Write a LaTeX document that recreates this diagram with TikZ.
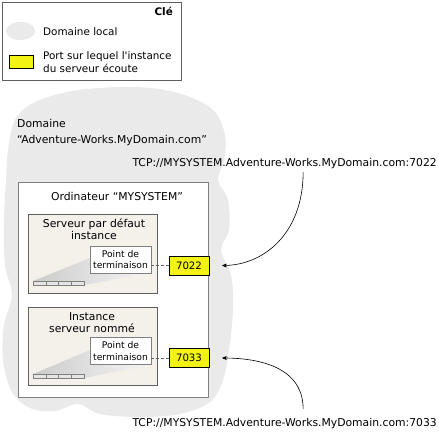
\documentclass[tikz,border=0pt]{standalone}
\usepackage{fontspec}
\setmainfont{DejaVu Sans}[Ligatures=TeXOff]
\usepackage{tikz}
\usetikzlibrary{arrows}
\definecolor{lgrey}{RGB}{234,234,234}
\definecolor{beige}{RGB}{244,240,234}
\definecolor{portyellow}{RGB}{242,242,20}
\definecolor{dgrey}{RGB}{96,96,96}
\definecolor{mgrey}{RGB}{128,128,128}

\begin{document}
\begin{tikzpicture}[x=1pt,y=-1pt,>=stealth',font=\fontsize{10.8}{12.5}\selectfont]
      \tikzstyle{every node}=[inner sep=0pt,text=black]
      \tikzstyle{instance}=[draw=dgrey,fill=beige,line width=0.8pt]
      \tikzstyle{title}=[align=center,font=\fontsize{10.8}{11.5}\selectfont]
      \tikzstyle{endpoint}=[draw=mgrey,fill=white,line width=0.6pt,minimum width=61pt,minimum height=27pt,align=center,font=\fontsize{9.2}{11.5}\selectfont]
      \tikzstyle{port}=[draw=black,fill=portyellow,line width=0.6pt,minimum width=40pt,minimum height=19pt,font=\fontsize{10.2}{12}\selectfont]
      \tikzstyle{bar}=[draw=mgrey,fill=black!10,line width=0.4pt]
      \tikzstyle{beam}=[left color=black!20,right color=black!4]
      \tikzstyle{link}=[->,line width=0.6pt,shorten >=13pt]

      \useasboundingbox (0,0) rectangle (439,433);

      % legend
      \draw[dgrey,line width=0.8pt,fill=white] (2,2) rectangle (181,80);
      \node[anchor=east,font=\fontsize{10.4}{12}\selectfont\bfseries] (K) at (173,11) {Clé};
      \fill[lgrey] (20.5,31) ellipse (14.5 and 9);
      \node[anchor=west,font=\fontsize{10.4}{12}\selectfont] (L1) at (43,32) {Domaine local};
      \draw[black,fill=portyellow,line width=0.6pt] (9,55) rectangle (33,68);
      \node[anchor=west,align=left,font=\fontsize{10.4}{13}\selectfont] (L2) at (43,62.5) {Port sur lequel l'instance\\du serveur écoute};

      % domain
      \fill[lgrey] plot[smooth cycle,tension=0.6] coordinates {
        (8,150) (15,120) (33,103) (67,92) (100,88) (133,87) (165,90) (195,99)
        (215,112) (225,135) (224,160) (218,180) (228,200) (229,230) (221,250)
        (231,275) (233,310) (229,350) (223,380) (210,402) (180,414) (140,417)
        (100,414) (78,404) (55,411) (30,408) (12,392) (3,360) (4,325) (12,295)
        (5,265) (4,220) (6,180)};
      \node[anchor=west,align=left,font=\fontsize{10.8}{16}\selectfont] (D) at (17,133) {Domaine\\“Adventure-Works.MyDomain.com”};

      % computer
      \draw[mgrey,fill=white,line width=0.8pt] (18,182) rectangle (208,397);
      \node (C) at (117,196) {Ordinateur “MYSYSTEM”};

      % default instance
      \draw[instance] (28,214) rectangle (157,293);
      \node[title] (S1) at (94,229.5) {Serveur par défaut\\instance};
      \shade[beam] (33,281) -- (90,258) -- (90,273) -- (150,273) -- (84,285) -- (33,285) -- cycle;
      \node[endpoint] (E1) at (120.5,259.5) {Point de\\terminaison};
      \foreach \i in {0,...,3}
        \draw[bar] (33+12.75*\i,281) rectangle (45.75+12.75*\i,285);
      \node[port] (P1) at (189,265.5) {7022};
      \draw[dgrey,dash pattern=on 3pt off 2pt] (E1.east |- P1.west) -- (P1.west);

      % named instance
      \draw[instance] (28,307) rectangle (157,385);
      \node[title] (S2) at (92,322.5) {Instance\\serveur nommé};
      \shade[beam] (33,374) -- (90,350) -- (90,365) -- (150,365) -- (84,378) -- (33,378) -- cycle;
      \node[endpoint] (E2) at (120.5,351) {Point de\\terminaison};
      \foreach \i in {0,...,3}
        \draw[bar] (33+12.75*\i,374) rectangle (45.75+12.75*\i,378);
      \node[port] (P2) at (189,358) {7033};
      \draw[dgrey,dash pattern=on 3pt off 2pt] (E2.east |- P2.west) -- (P2.west);

      % addresses
      \node[anchor=east] (T1) at (437,164) {TCP://MYSYSTEM.Adventure-Works.MyDomain.com:7022};
      \node[anchor=east] (T2) at (437,424) {TCP://MYSYSTEM.Adventure-Works.MyDomain.com:7033};

      \draw[link] ([xshift=18.5pt,yshift=-2.5pt]T1.south) .. controls +(0,62) and +(54,0) .. (P1.east);
      \draw[link] ([xshift=18.5pt,yshift=9.5pt]T2.north) .. controls +(0,-40) and +(54,0) .. (P2.east);

  \end{tikzpicture}
\end{document}
